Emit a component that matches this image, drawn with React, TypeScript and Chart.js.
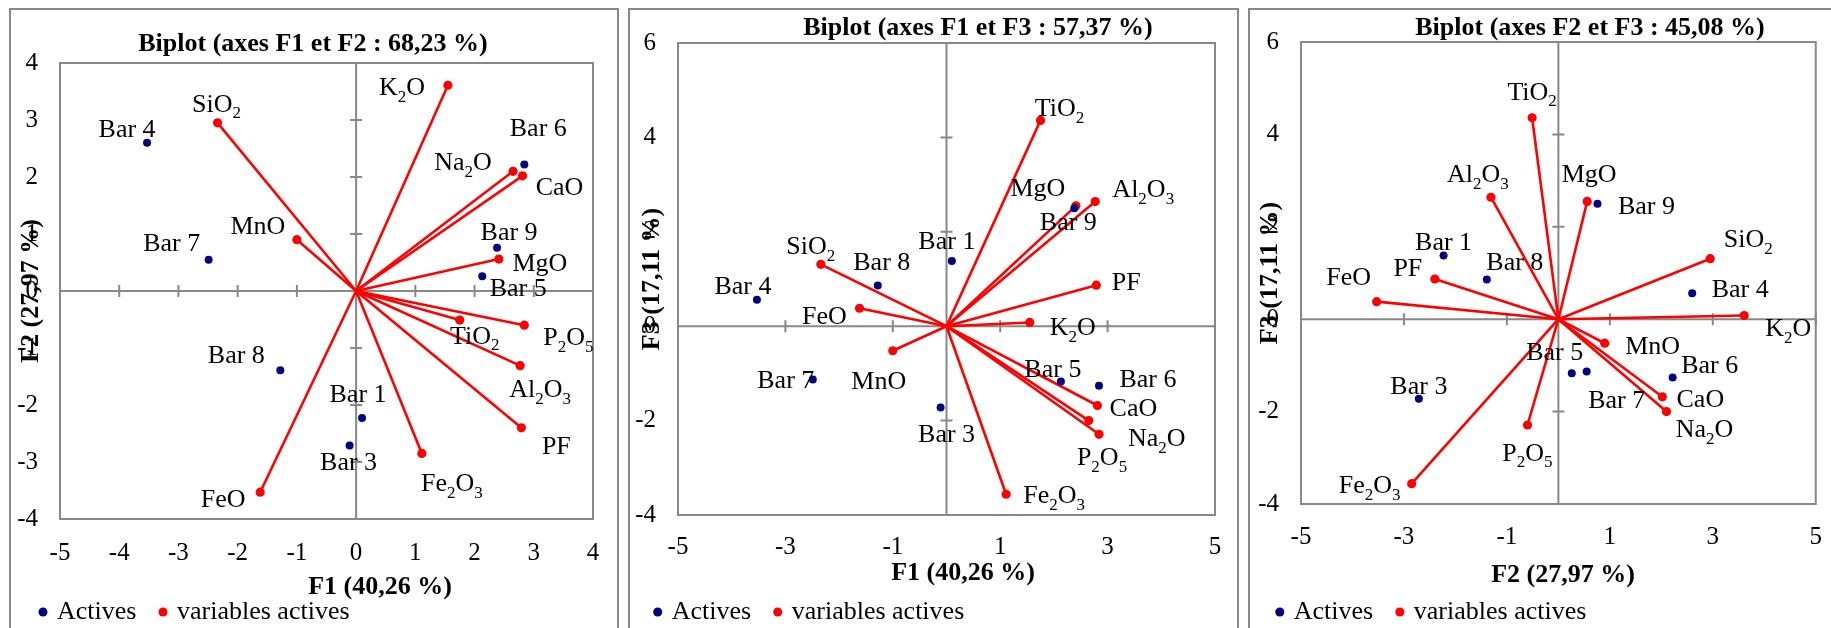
import React, { useEffect, useRef } from 'react';
import { Chart, registerables } from 'chart.js';

Chart.register(...registerables);

// ---------- data ----------
const obsNames = ['Bar 1', 'Bar 3', 'Bar 4', 'Bar 5', 'Bar 6', 'Bar 7', 'Bar 8', 'Bar 9'];
const obsF1 = [0.10, -0.11, -3.53, 2.13, 2.84, -2.49, -1.28, 2.38];
const obsF2 = [-2.23, -2.71, 2.60, 0.26, 2.22, 0.55, -1.39, 0.76];
const obsF3 = [1.38, -1.72, 0.56, -1.17, -1.26, -1.13, 0.86, 2.50];

const varNames = ['SiO₂', 'TiO₂', 'Al₂O₃', 'Fe₂O₃', 'FeO', 'MnO', 'MgO', 'CaO', 'Na₂O', 'K₂O', 'P₂O₅', 'PF'];
const varF1 = [-2.34, 1.75, 2.77, 1.11, -1.62, -1.00, 2.41, 2.81, 2.65, 1.55, 2.84, 2.79];
const varF2 = [2.95, -0.51, -1.31, -2.85, -3.53, 0.90, 0.56, 2.02, 2.10, 3.61, -0.60, -2.40];
const varF3 = [1.31, 4.36, 2.64, -3.56, 0.38, -0.52, 2.55, -1.68, -2.00, 0.08, -2.29, 0.87];

const chartTitles = [
  'Biplot (axes F1 et F2 : 68,23 %)',
  'Biplot (axes F1 et F3 : 57,37 %)',
  'Biplot (axes F2 et F3 : 45,08 %)',
];
const axisTitles = ['F1 (40,26 %)', 'F2 (27,97 %)', 'F3 (17,11 %)'];
const legendLabels = ['Actives', 'variables actives'];

const p1XTicks = [-5, -4, -3, -2, -1, 0, 1, 2, 3, 4];
const p1YTicks = [-4, -3, -2, -1, 0, 1, 2, 3, 4];
const p23XTicks = [-5, -3, -1, 1, 3, 5];
const p23YTicks = [-4, -2, 0, 2, 4, 6];

// ---------- style / layout ----------
const FONT = "'Liberation Serif', 'Times New Roman', serif";
const GRAY = '#888888';
const BLUE = '#000080';
const RED = '#FF0000';
const CANVAS_H = 636;
const TICK = 6;
const LEGEND_PAD = 25.6;
const LEGEND_FONT = 26;
const LEGEND_H = LEGEND_FONT + LEGEND_PAD + 10;

type Off = [number, number];

const panels = [
  {
    xs: obsF1, ys: obsF2, vx: varF1, vy: varF2,
    xTicks: p1XTicks, yTicks: p1YTicks,
    title: chartTitles[0], xTitle: axisTitles[0], yTitle: axisTitles[1],
    canvasLeft: 0, canvasWidth: 623,
    plot: { l: 60, t: 63, r: 593, b: 519 },
    legendLeft: 16.4, xTickPad: 19,
    titlePos: [313, 44], xTitlePos: [380, 587], yTitlePos: [31, 291],
    obsOff: [[-4, -25], [-1, 16], [-20, -15], [36, 11], [14, -37], [-37, -17], [-44, -16], [12, -16]] as Off[],
    varOff: [[-1, -20], [15, 15], [20, 23], [30, 29], [-37, 6], [-39, -15], [41, 3], [37, 10], [-50, -10], [-46, 1], [44, 11], [35, 17]] as Off[],
  },
  {
    xs: obsF1, ys: obsF3, vx: varF1, vy: varF3,
    xTicks: p23XTicks, yTicks: p23YTicks,
    title: chartTitles[1], xTitle: axisTitles[0], yTitle: axisTitles[2],
    canvasLeft: 620, canvasWidth: 620,
    plot: { l: 678, t: 43, r: 1215, b: 515 },
    legendLeft: 11.1, xTickPad: 17,
    titlePos: [978, 28], xTitlePos: [963, 573], yTitlePos: [652, 279],
    obsOff: [[-5, -21], [6, 26], [-14, -15], [-8, -13], [49, -7], [-27, 0], [4, -24], [-6, 13]] as Off[],
    varOff: [[-10, -19], [19, -13], [48, -13], [48, 0], [-35, 7], [-14, 29], [-38, -19], [36, 2], [68, 17], [43, 4], [3, 22], [30, -4]] as Off[],
  },
  {
    xs: obsF2, ys: obsF3, vx: varF2, vy: varF3,
    xTicks: p23XTicks, yTicks: p23YTicks,
    title: chartTitles[2], xTitle: axisTitles[1], yTitle: axisTitles[2],
    canvasLeft: 1240, canvasWidth: 600,
    plot: { l: 1301, t: 42, r: 1827, b: 504 },
    legendLeft: 13.2, xTickPad: 18,
    titlePos: [1590, 28], xTitlePos: [1563, 575], yTitlePos: [1270, 273],
    obsOff: [[0, -14], [0, -13], [48, -5], [-17, -22], [37, -13], [30, 28], [28, -18], [49, 1]] as Off[],
    varOff: [[38, -20], [0, -27], [-13, -24], [-42, 1], [-28, -25], [48, 2], [2, -28], [38, 1], [38, 17], [44, 12], [0, 27], [-27, -12]] as Off[],
  },
];

const SUBS = '₀₁₂₃₄₅₆₇₈₉';

function drawRichLabel(ctx: CanvasRenderingContext2D, text: string, cx: number, cy: number) {
  const segs: { t: string; sub: boolean }[] = [];
  for (const ch of text) {
    const si = SUBS.indexOf(ch);
    const isSub = si >= 0;
    const c = isSub ? String(si) : ch;
    const last = segs[segs.length - 1];
    if (last && last.sub === isSub) last.t += c;
    else segs.push({ t: c, sub: isSub });
  }
  const mainFont = `26px ${FONT}`;
  const subFont = `17px ${FONT}`;
  let total = 0;
  const widths = segs.map((s) => {
    ctx.font = s.sub ? subFont : mainFont;
    const w = ctx.measureText(s.t).width;
    total += w;
    return w;
  });
  let x = cx - total / 2;
  const baseline = cy + 8.8;
  ctx.textAlign = 'left';
  ctx.textBaseline = 'alphabetic';
  ctx.fillStyle = '#000';
  segs.forEach((s, i) => {
    ctx.font = s.sub ? subFont : mainFont;
    ctx.fillText(s.t, x, s.sub ? baseline + 6.5 : baseline);
    x += widths[i];
  });
}

function BiplotPanel({ cfg }: { cfg: (typeof panels)[number] }) {
  const ref = useRef<HTMLCanvasElement>(null);
  useEffect(() => {
    const canvas = ref.current;
    if (!canvas) return;
    const L = cfg.canvasLeft;
    const plotLLocal = cfg.plot.l - L;
    const plotRLocal = cfg.plot.r - L;
    const yScaleW = plotLLocal - cfg.legendLeft;
    const xScaleH = CANVAS_H - 1 - LEGEND_H - cfg.plot.b;

    const decor = {
      id: 'biplotDecor',
      beforeDatasetsDraw(chart: any) {
        const { ctx, chartArea: a, scales } = chart;
        const sx = scales.x;
        const sy = scales.y;
        ctx.save();
        ctx.strokeStyle = GRAY;
        ctx.lineWidth = 2;
        ctx.strokeRect(a.left, a.top, a.right - a.left, a.bottom - a.top);
        const x0 = sx.getPixelForValue(0);
        const y0 = sy.getPixelForValue(0);
        ctx.beginPath();
        ctx.moveTo(a.left, y0);
        ctx.lineTo(a.right, y0);
        ctx.moveTo(x0, a.top);
        ctx.lineTo(x0, a.bottom);
        cfg.xTicks.forEach((v) => {
          if (v === 0) return;
          const px = sx.getPixelForValue(v);
          ctx.moveTo(px, y0 - TICK);
          ctx.lineTo(px, y0 + TICK);
        });
        cfg.yTicks.forEach((v) => {
          if (v === 0) return;
          const py = sy.getPixelForValue(v);
          ctx.moveTo(x0 - TICK, py);
          ctx.lineTo(x0 + TICK, py);
        });
        ctx.stroke();
        ctx.restore();
      },
      afterDraw(chart: any) {
        const { ctx, scales } = chart;
        const sx = scales.x;
        const sy = scales.y;
        ctx.save();
        cfg.xs.forEach((v, i) => {
          const px = sx.getPixelForValue(v);
          const py = sy.getPixelForValue(cfg.ys[i]);
          const [dx, dy] = cfg.obsOff[i];
          drawRichLabel(ctx, obsNames[i], px + dx, py + dy);
        });
        cfg.vx.forEach((v, i) => {
          const px = sx.getPixelForValue(v);
          const py = sy.getPixelForValue(cfg.vy[i]);
          const [dx, dy] = cfg.varOff[i];
          drawRichLabel(ctx, varNames[i], px + dx, py + dy);
        });
        ctx.fillStyle = '#000';
        ctx.textAlign = 'center';
        ctx.textBaseline = 'middle';
        ctx.font = `bold 26px ${FONT}`;
        ctx.fillText(cfg.title, cfg.titlePos[0] - L, cfg.titlePos[1]);
        ctx.fillText(cfg.xTitle, cfg.xTitlePos[0] - L, cfg.xTitlePos[1]);
        ctx.translate(cfg.yTitlePos[0] - L, cfg.yTitlePos[1]);
        ctx.rotate(-Math.PI / 2);
        ctx.fillText(cfg.yTitle, 0, 0);
        ctx.restore();
      },
    };

    const chart = new Chart(canvas, {
      type: 'scatter',
      data: {
        datasets: [
          {
            label: legendLabels[0],
            data: cfg.xs.map((x, i) => ({ x, y: cfg.ys[i] })),
            backgroundColor: BLUE,
            borderColor: BLUE,
            pointRadius: 4,
            pointBorderWidth: 0,
            pointStyle: 'circle',
          },
          {
            label: legendLabels[1],
            data: cfg.vx.map((x, i) => ({ x, y: cfg.vy[i] })),
            backgroundColor: RED,
            borderColor: RED,
            pointRadius: 4.6,
            pointBorderWidth: 0,
            pointStyle: 'circle',
          },
          ...cfg.vx.map((x, i) => ({
            label: varNames[i],
            data: [{ x: 0, y: 0 }, { x, y: cfg.vy[i] }],
            showLine: true,
            borderColor: RED,
            backgroundColor: RED,
            borderWidth: 2.6,
            pointRadius: 0,
          })),
        ],
      } as any,
      options: {
        responsive: false,
        animation: false,
        events: [],
        layout: {
          padding: {
            left: cfg.legendLeft,
            top: cfg.plot.t,
            right: cfg.canvasWidth - plotRLocal,
            bottom: 1,
          },
        },
        scales: {
          x: {
            type: 'linear',
            position: 'bottom',
            min: cfg.xTicks[0],
            max: cfg.xTicks[cfg.xTicks.length - 1],
            grid: { display: false, drawTicks: false },
            border: { display: false },
            afterBuildTicks: (s: any) => {
              s.ticks = cfg.xTicks.map((v) => ({ value: v }));
            },
            afterFit: (s: any) => {
              s.height = xScaleH;
            },
            ticks: {
              padding: cfg.xTickPad,
              color: '#000',
              font: { family: FONT, size: 25 },
              maxRotation: 0,
              autoSkip: false,
              callback: (v: any) => String(v),
            },
          },
          y: {
            type: 'linear',
            position: 'left',
            min: cfg.yTicks[0],
            max: cfg.yTicks[cfg.yTicks.length - 1],
            grid: { display: false, drawTicks: false },
            border: { display: false },
            afterBuildTicks: (s: any) => {
              s.ticks = cfg.yTicks.map((v) => ({ value: v }));
            },
            afterFit: (s: any) => {
              s.width = yScaleW;
            },
            ticks: {
              padding: 22,
              color: '#000',
              font: { family: FONT, size: 25 },
              autoSkip: false,
              callback: (v: any) => String(v),
            },
          },
        },
        plugins: {
          title: { display: false },
          tooltip: { enabled: false },
          legend: {
            display: true,
            position: 'bottom',
            align: 'start',
            labels: {
              usePointStyle: true,
              boxWidth: 2,
              boxHeight: 6.4,
              padding: LEGEND_PAD,
              color: '#000',
              font: { family: FONT, size: LEGEND_FONT },
              filter: (item: any) => item.datasetIndex < 2,
            },
          },
        },
      } as any,
      plugins: [decor],
    });
    return () => chart.destroy();
  }, [cfg]);

  return (
    <canvas
      ref={ref}
      width={cfg.canvasWidth}
      height={CANVAS_H}
      style={{ position: 'absolute', left: cfg.canvasLeft, top: 0, width: cfg.canvasWidth, height: CANVAS_H }}
    />
  );
}

const frames = [
  { left: 9, width: 610 },
  { left: 628, width: 611 },
  { left: 1248, width: 700 },
];

export default function App() {
  return (
    <div
      style={{
        position: 'fixed',
        left: 0,
        top: 0,
        width: 1831,
        height: 628,
        overflow: 'hidden',
        background: '#fff',
      }}
    >
      {frames.map((f, i) => (
        <div
          key={'f' + i}
          style={{
            position: 'absolute',
            left: f.left,
            top: 8,
            width: f.width,
            height: 700,
            border: `2px solid ${GRAY}`,
            boxSizing: 'border-box',
          }}
        />
      ))}
      {panels.map((p, i) => (
        <BiplotPanel key={i} cfg={p} />
      ))}
    </div>
  );
}
